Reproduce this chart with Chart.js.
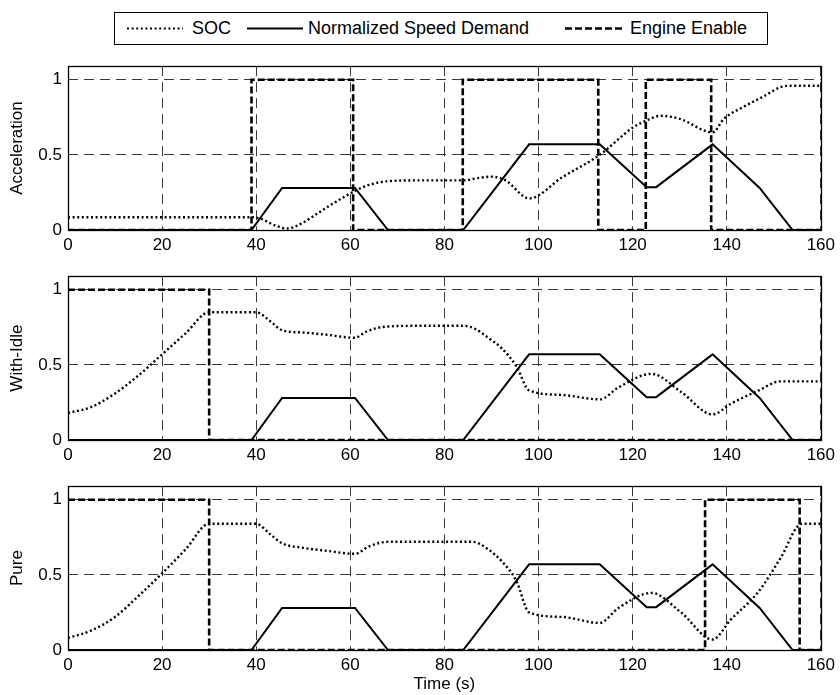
<!DOCTYPE html>
<html><head><meta charset="utf-8">
<script src="https://cdn.jsdelivr.net/npm/chart.js@4/dist/chart.umd.min.js"></script>
<style>
body{margin:0;background:#fff;width:840px;height:695px;position:relative;overflow:hidden;font-family:"Liberation Sans",Arial,sans-serif;color:#000;}
canvas{position:absolute;left:0;}
#legend{position:absolute;left:114px;top:12px;width:652px;height:31px;border:1px solid #000;background:#fff;}
.lt{position:absolute;top:18px;font-size:18px;line-height:20px;white-space:nowrap;}
svg{position:absolute;left:0;top:0;}
</style></head><body>
<div id="legend"></div>
<svg width="840" height="50">
  <line x1="127" y1="28.5" x2="183" y2="28.5" stroke="#000" stroke-width="2.2" stroke-dasharray="2 2.6"/>
  <line x1="247" y1="28.5" x2="303" y2="28.5" stroke="#000" stroke-width="2"/>
  <line x1="565" y1="28.5" x2="623" y2="28.5" stroke="#000" stroke-width="2.5" stroke-dasharray="7 3"/>
</svg>
<div class="lt" style="left:192px">SOC</div>
<div class="lt" style="left:308px">Normalized Speed Demand</div>
<div class="lt" style="left:630px">Engine Enable</div>
<canvas id="c1" width="840" height="205" style="top:50px"></canvas>
<canvas id="c2" width="840" height="205" style="top:260px"></canvas>
<canvas id="c3" width="840" height="225" style="top:470px"></canvas>
<script>
// ---- data ----
const xTicks = [0,20,40,60,80,100,120,140,160];
const yTicks = [0,0.5,1];
const panelTitles = ['Acceleration','With-Idle','Pure'];

const speedT = [0,39,45.5,61,68,84,98,113,123,125,137,147,154,160];
const speedV = [0,0,0.28,0.28,0,0,0.57,0.57,0.285,0.285,0.57,0.28,0,0];

const accEngT = [0,39,39,60.6,60.6,83.9,83.9,112.7,112.7,122.8,122.8,136.7,136.7,160];
const accEngV = [0,0,1,1,0,0,1,1,0,0,1,1,0,0];
const idleEngT = [0,30,30,160];
const idleEngV = [1,1,0,0];
const pureEngT = [0,30,30,135.4,135.4,155.5,155.5,160];
const pureEngV = [1,1,0,0,1,1,0,0];

const accSocT = [0,39,41,44,46.6,50,53,56,61,64,68,75,84,87,90,93,98,105,113,120,123,126,130,137,139.4,143.6,147.9,151.4,154,160];
const accSocV = [0.085,0.085,0.075,0.03,0.01,0.05,0.11,0.17,0.26,0.30,0.325,0.33,0.33,0.345,0.355,0.33,0.21,0.35,0.50,0.68,0.73,0.76,0.74,0.65,0.74,0.82,0.89,0.95,0.96,0.96];

const idleSocT = [0,5,10,15,20,25,30,40,43,45.5,50,55,61,63.3,67.7,75,84,86.5,89.3,92.2,95.3,98,105,113,117,124,130.3,137,140.8,146.8,151.4,160];
const idleSocV = [0.18,0.22,0.31,0.43,0.57,0.71,0.85,0.85,0.79,0.73,0.715,0.70,0.68,0.72,0.755,0.76,0.76,0.74,0.68,0.61,0.49,0.33,0.30,0.27,0.35,0.44,0.32,0.17,0.24,0.33,0.39,0.39];

const pureSocT = [0,5,10,15,20,25,30,40,43,45.5,50,55,61,64,68,75,86,89.3,92.2,95.3,98,105,113,117,124,130.3,137,140.8,146.8,151.4,156,160];
const pureSocV = [0.08,0.13,0.22,0.36,0.51,0.67,0.84,0.84,0.77,0.71,0.68,0.66,0.64,0.69,0.72,0.72,0.72,0.67,0.59,0.46,0.25,0.22,0.18,0.28,0.38,0.25,0.07,0.20,0.39,0.61,0.84,0.84];

// ---- helpers ----
const pts = (t,v) => t.map((x,i)=>({x:x,y:v[i]}));
const FONT = {family:'"Liberation Sans", Arial, sans-serif', size:17};
const CH = 167; // plot height

const boxPlugin = {
  id:'box',
  afterDraw(chart){
    const a = chart.chartArea, c = chart.ctx;
    c.save(); c.strokeStyle='#000'; c.lineWidth=1.3; c.setLineDash([]);
    c.strokeRect(Math.round(a.left)+0.5, Math.round(a.top)+0.5, Math.round(a.right-a.left), Math.round(a.bottom-a.top));
    c.restore();
  }
};

function makeChart(id, idx, socT, socV, engT, engV, canvasH, showXTitle){
  const xH = canvasH - 13 - CH;
  new Chart(document.getElementById(id), {
    type:'line',
    data:{datasets:[
      {label:'SOC', data:pts(socT,socV), borderColor:'#000', borderWidth:2.4, borderDash:[2,2.6], pointRadius:0, cubicInterpolationMode:'monotone', fill:false},
      {label:'Normalized Speed Demand', data:pts(speedT,speedV), borderColor:'#000', borderWidth:2, pointRadius:0, tension:0, fill:false},
      {label:'Engine Enable', data:pts(engT,engV), borderColor:'#000', borderWidth:2.6, borderDash:[7,3], pointRadius:0, tension:0, fill:false}
    ]},
    options:{
      responsive:false, animation:false, devicePixelRatio:1,
      layout:{padding:{top:13,right:16,left:0,bottom:0}},
      plugins:{legend:{display:false}, tooltip:{enabled:false}},
      scales:{
        x:{type:'linear', min:0, max:160,
          afterBuildTicks(s){ s.ticks = xTicks.map(v=>({value:v})); },
          afterFit(s){ s.height = xH; },
          ticks:{color:'#000', font:FONT, padding:5, maxRotation:0, autoSkip:false},
          grid:{color:'#222', lineWidth:0.9, drawTicks:false, borderDash:[10,6]},
          border:{display:false, dash:[10,6]},
          title:{display:showXTitle, text:'Time (s)', color:'#000', font:FONT, padding:{top:2,bottom:0}}
        },
        y:{type:'linear', min:0, max:1.09,
          afterBuildTicks(s){ s.ticks = yTicks.map(v=>({value:v})); },
          afterFit(s){ s.width = 68; },
          ticks:{color:'#000', font:FONT, padding:6, callback:v=>String(v)},
          grid:{color:'#222', lineWidth:0.9, drawTicks:false, borderDash:[10,6]},
          border:{display:false, dash:[10,6]},
          title:{display:true, text:panelTitles[idx], color:'#000', font:FONT, padding:{top:7,bottom:0}}
        }
      }
    },
    plugins:[boxPlugin]
  });
}

makeChart('c1',0,accSocT,accSocV,accEngT,accEngV,205,false);
makeChart('c2',1,idleSocT,idleSocV,idleEngT,idleEngV,205,false);
makeChart('c3',2,pureSocT,pureSocV,pureEngT,pureEngV,225,true);
</script>
</body></html>
